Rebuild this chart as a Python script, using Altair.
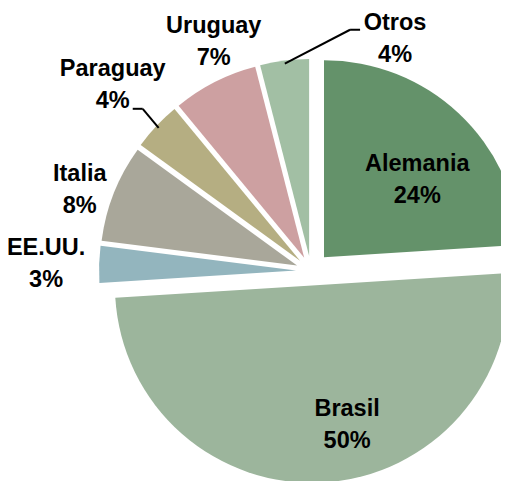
import altair as alt
import pandas as pd

# ---- data ----
categories = ["Alemania", "Brasil", "EE.UU.", "Italia", "Paraguay", "Uruguay", "Otros"]
values = [24, 50, 3, 8, 4, 7, 4]
colors = ["#64926A", "#9CB59C", "#93B5BE", "#A9A79A", "#B5AE82", "#CDA0A1", "#A2BFA4"]

# ---- layout / style ----
CX, CY = 303, 263          # centre of the un-exploded pie
R = 197                    # pie radius
explode = {"Alemania": 19, "Brasil": 14.5}
explode_default = 15
LH = 32                    # label line height
# label radius (from pie centre) and angular nudge (deg) from slice middle
label_place = {
    "Alemania": (140, 6.2),
    "Brasil": (158, -9.6),
    "EE.UU.": (265, -0.3),
    "Italia": (245, -2.3),
    "Paraguay": (272, 0.0),
    "Uruguay": (249, 4.0),
    "Otros": (247, 27.1),
}
# leader lines: elbow dx, dy and end dx relative to label centre
leaders = {"Otros": (-45, -9, -35), "Paraguay": (30, 24, 20)}


def case(mapping, idx=None, default=0):
    expr = str(default)
    for k, v in mapping.items():
        val = v if idx is None else v[idx]
        expr = f"datum.cat === '{k}' ? {val} : ({expr})"
    return expr


df = pd.DataFrame({"cat": categories, "value": values, "order": list(range(len(categories)))})

base = (
    alt.Chart(df)
    .transform_window(cum="sum(value)", sort=[alt.SortField("order")], frame=[None, 0])
    .transform_joinaggregate(total="sum(value)")
    .transform_calculate(
        s0="(datum.cum - datum.value) / datum.total",
        s1="datum.cum / datum.total",
        mid="(datum.cum - datum.value / 2) / datum.total * 2 * PI",
        ex=case(explode, default=explode_default),
    )
    .transform_calculate(
        cx=f"{CX} + datum.ex * sin(datum.mid)",
        cy=f"{CY} - datum.ex * cos(datum.mid)",
        lr=case(label_place, 0),
        la="datum.mid + (" + case(label_place, 1) + ") * PI / 180",
    )
    .transform_calculate(
        lx=f"{CX} + datum.lr * sin(datum.la)",
        ly=f"{CY} - datum.lr * cos(datum.la)",
        txt="datum.cat + '\\n' + datum.value + '%'",
    )
)

arcs = base.mark_arc(outerRadius=R).encode(
    x=alt.X("cx:Q", scale=None, axis=None),
    y=alt.Y("cy:Q", scale=None, axis=None),
    theta=alt.Theta("s0:Q", scale=alt.Scale(domain=[0, 1])),
    theta2="s1:Q",
    color=alt.Color("cat:N", scale=alt.Scale(domain=categories, range=colors), legend=None),
)

lead = (
    base.transform_filter(alt.FieldOneOfPredicate(field="cat", oneOf=list(leaders.keys())))
    .transform_calculate(
        x1=f"datum.cx + {R - 3} * sin(datum.mid)",
        y1=f"datum.cy - {R - 3} * cos(datum.mid)",
        xe="datum.lx + (" + case(leaders, 0) + ")",
        ye="datum.ly + (" + case(leaders, 1) + ")",
        xn="datum.lx + (" + case(leaders, 2) + ")",
    )
)
seg1 = lead.mark_rule(color="black", strokeWidth=2).encode(
    x=alt.X("x1:Q", scale=None, axis=None),
    y=alt.Y("y1:Q", scale=None, axis=None),
    x2="xe:Q",
    y2="ye:Q",
)
seg2 = lead.mark_rule(color="black", strokeWidth=2).encode(
    x=alt.X("xe:Q", scale=None, axis=None),
    y=alt.Y("ye:Q", scale=None, axis=None),
    x2="xn:Q",
    y2="ye:Q",
)

labels = base.mark_text(
    font="Liberation Sans", fontSize=23.5, fontWeight="bold", lineBreak="\n", lineHeight=LH,
    align="center", baseline="middle", dy=-LH / 2, color="black",
).encode(
    x=alt.X("lx:Q", scale=None, axis=None),
    y=alt.Y("ly:Q", scale=None, axis=None),
    text="txt:N",
)

chart = (
    alt.layer(arcs, seg1, seg2, labels)
    .properties(width=493, height=473, padding=0, autosize="none", background="white")
    .configure_view(stroke=None)
)

chart.save("out.html", embed_options={"renderer": "svg", "actions": False})
